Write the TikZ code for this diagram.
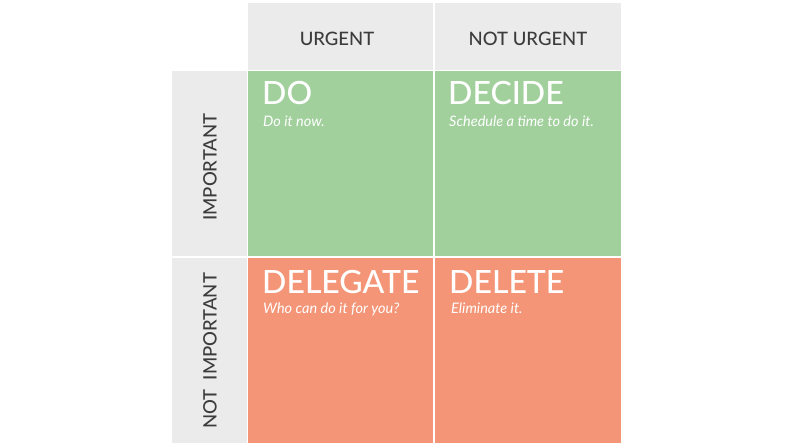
\documentclass[tikz,border=0pt]{standalone}
\usepackage{fontspec}
\setmainfont{Lato}
\newfontfamily\medfont{Lato Medium}
\definecolor{headgrey}{HTML}{EBEBEB}
\definecolor{labelgrey}{HTML}{3C3C3C}
\definecolor{dogreen}{HTML}{A1D09D}
\definecolor{dropred}{HTML}{F49577}

\begin{document}
\begin{tikzpicture}[x=1pt, y=-1pt]
    \tikzstyle{label} = [text=labelgrey, font=\medfont\fontsize{18.5}{18.5}\selectfont, inner sep=0pt]
    \tikzstyle{title} = [text=white, anchor=base west, inner sep=0pt, font=\medfont\fontsize{32}{32}\selectfont]
    \tikzstyle{note} = [text=white, anchor=base west, inner sep=0pt, font=\fontsize{14.5}{14.5}\selectfont\itshape]
    \useasboundingbox[fill=white] (0, 0) rectangle (800, 447);
    % header row and side column
    \fill[headgrey] (248, 3) rectangle (433, 70);
    \fill[headgrey] (435, 3) rectangle (621, 70);
    \fill[headgrey] (172, 71) rectangle (247, 256);
    \fill[headgrey] (172, 258) rectangle (247, 443);
    % quadrants
    \fill[dogreen] (248, 71) rectangle (433, 256);
    \fill[dogreen] (435, 71) rectangle (621, 256);
    \fill[dropred] (248, 258) rectangle (433, 443);
    \fill[dropred] (435, 258) rectangle (621, 443);
    \node[label] (urgent) at (337, 38.5) {URGENT};
    \node[label] (noturgent) at (528, 38.5) {NOT URGENT};
    \node[label, rotate=90] (important) at (210, 167) {IMPORTANT};
    \node[label, rotate=90] (notimportant) at (210, 351) {NOT\ \ IMPORTANT};
    \node[title] (do) at (262, 104) {DO};
    \node[note] (donote) at (263, 126) {Do it now.};
    \node[title] (decide) at (448, 104) {DECIDE};
    \node[note] (decidenote) at (449, 126) {Schedule a time to do it.};
    \node[title] (delegate) at (262, 293) {DELEGATE};
    \node[note] (delegatenote) at (263, 313) {Who can do it for you?};
    \node[title] (delete) at (449, 293) {DELETE};
    \node[note] (deletenote) at (451, 313) {Eliminate it.};
\end{tikzpicture}
\end{document}
